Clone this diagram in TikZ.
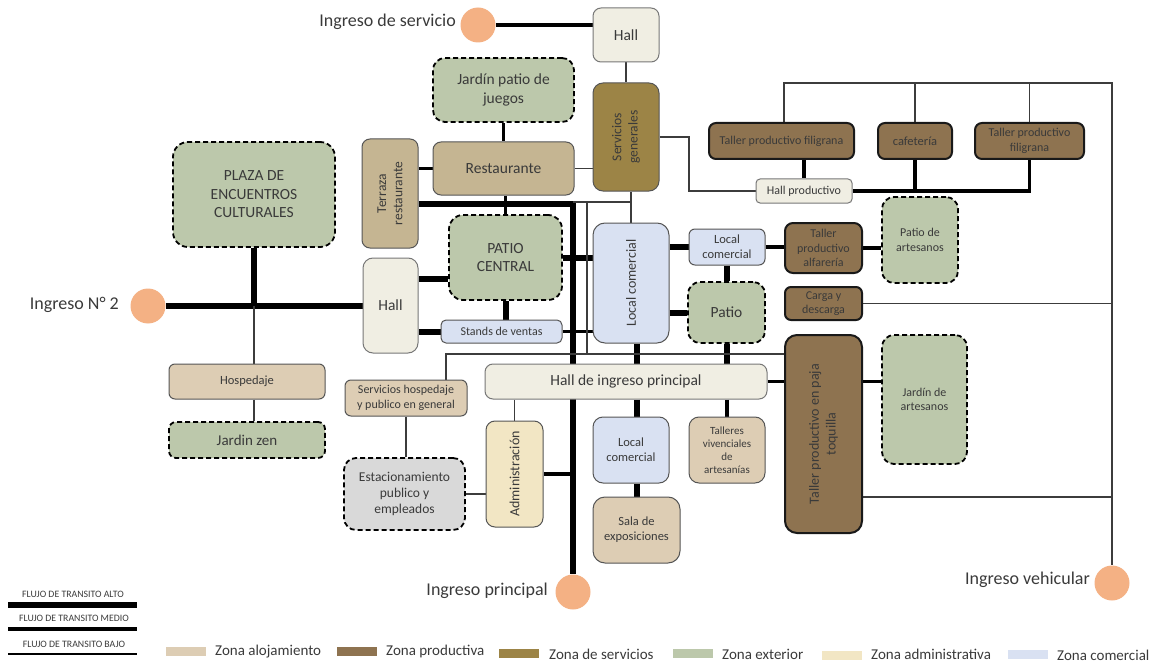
\documentclass[tikz,border=0pt]{standalone}
\usepackage{fontspec}
\setmainfont{Carlito}
\definecolor{cAloj}{HTML}{DDCDB4}
\definecolor{cProd}{HTML}{8E7350}
\definecolor{cServ}{HTML}{9C8446}
\definecolor{cExt}{HTML}{BCC8AB}
\definecolor{cAdm}{HTML}{F2E6C4}
\definecolor{cCom}{HTML}{D9E1F2}
\definecolor{cRest}{HTML}{C5B592}
\definecolor{cHall}{HTML}{F0EEE3}
\definecolor{cGray}{HTML}{D9D9D9}
\definecolor{cPeach}{HTML}{F4B184}
\definecolor{cText}{HTML}{3A3A3A}
\definecolor{cLine}{HTML}{555555}
\definecolor{cThin}{HTML}{3C3C3C}
\pgfdeclarelayer{bg}
\pgfsetlayers{bg,main}
% box from its corners: name, x1, y1, x2, y2, style, text
\newcommand\zbox[7]{%
  \pgfmathsetmacro\zbw{#4-#2}\pgfmathsetmacro\zbh{#5-#3}%
  \node[#6, minimum width=\zbw pt, minimum height=\zbh pt] (#1) at ({(#2+#4)/2},{(#3+#5)/2}) {#7};}
\begin{document}
\begin{tikzpicture}[x=1pt,y=-1pt,
  bx/.style={draw=cLine, line width=1pt, rounded corners=8pt, inner sep=1pt, align=center, text=cText},
  hallbx/.style={bx, draw=cLine!80, fill=cHall},
  prodbx/.style={bx, draw=black!90, line width=2pt, fill=cProd},
  dashbx/.style={bx, draw=black, line width=1.8pt, dash pattern=on 5pt off 3pt, fill=cExt},
  rtext/.style={rotate=90, align=center, text=cText, inner sep=0pt},
  lbl/.style={text=cText, inner sep=0pt},
  entry/.style={circle, fill=cPeach, minimum size=35pt, inner sep=0pt},
  swatch/.style={fill=#1, minimum width=40pt, minimum height=9pt, inner sep=0pt},
  alto/.style={line width=6pt, black},
  medio/.style={line width=3.5pt, black},
  bajo/.style={line width=1.1pt, cThin},
  f18/.style={font=\fontsize{18}{21}\selectfont},
  f155/.style={font=\fontsize{15.5}{18.5}\selectfont},
  f15/.style={font=\fontsize{15}{18}\selectfont},
  f14/.style={font=\fontsize{14}{16.8}\selectfont},
  f135/.style={font=\fontsize{13.5}{16.2}\selectfont},
  f125/.style={font=\fontsize{12.5}{15}\selectfont},
  f12/.style={font=\fontsize{12}{14.3}\selectfont},
  f11/.style={font=\fontsize{11}{13}\selectfont},
  f10/.style={font=\fontsize{9.8}{11}\selectfont}]
\useasboundingbox (0,0) rectangle (1165,666);

% ---- spaces ----
\zbox{hallT}{593}{8}{659}{62}{hallbx, f155}{Hall}
\zbox{jpj}{433}{58}{574}{122}{dashbx, rounded corners=12pt, f155}{Jardín patio de\\juegos}
\zbox{sg}{593}{83}{659}{191}{bx, fill=cServ, rounded corners=10pt}{}
\node[rtext, f135] (sg-t) at (sg) {Servicios\\generales};
\zbox{rest}{433}{142}{574}{195}{bx, fill=cRest, f155}{Restaurante}
\zbox{terr}{362}{139}{418}{248}{bx, fill=cRest}{}
\node[rtext, f135] (terr-t) at (terr) {Terraza\\restaurante};
\zbox{plaza}{173}{142}{335}{247}{dashbx, rounded corners=15pt, f155}{PLAZA DE\\ENCUENTROS\\CULTURALES}
\zbox{pc}{449}{215}{562}{300}{dashbx, rounded corners=14pt, f155}{PATIO\\CENTRAL}
\zbox{hallL}{363}{258}{418}{353}{hallbx, rounded corners=10pt, f155}{Hall}
\zbox{stands}{441}{320}{562}{343}{bx, fill=cCom, rounded corners=5pt, f12}{Stands de ventas}
\zbox{lc1}{593}{223}{669}{343}{bx, fill=cCom, rounded corners=12pt}{}
\node[rtext, f14] (lc1-t) at (lc1) {Local comercial};
\zbox{lc2}{689}{229}{765}{265}{bx, fill=cCom, rounded corners=6pt, f125}{Local\\comercial}
\zbox{patio}{688}{282}{765}{343}{dashbx, rounded corners=12pt, f155}{Patio}
\zbox{hip}{485}{364}{767}{399}{hallbx, f155}{Hall de ingreso principal}
\zbox{lc3}{593}{417}{669}{483}{bx, fill=cCom, rounded corners=10pt, f125}{Local\\comercial}
\zbox{tviv}{689}{417}{765}{483}{bx, fill=cAloj, rounded corners=10pt, f11}{Talleres\\vivenciales\\de\\artesanías}
\zbox{adm}{486}{421}{543}{527}{bx, fill=cAdm, rounded corners=9pt}{}
\node[rtext, f14] (adm-t) at (adm) {Administración};
\zbox{sala}{593}{497}{680}{563}{bx, fill=cAloj, rounded corners=12pt, f125}{Sala de\\exposiciones}
\zbox{shp}{345}{380}{467}{416}{bx, fill=cAloj, rounded corners=6pt, f12}{Servicios hospedaje\\y publico en general}
\zbox{est}{344}{458}{465}{530}{dashbx, fill=cGray, rounded corners=12pt, f135}{Estacionamiento\\publico y\\empleados}
\zbox{hosp}{169}{364}{325}{399}{bx, fill=cAloj, rounded corners=6pt, f125}{Hospedaje}
\zbox{jz}{169}{422}{325}{458}{dashbx, rounded corners=7pt, f15}{Jardin zen}
\zbox{tfl}{709}{123}{854}{159}{prodbx, rounded corners=7pt, f12}{Taller productivo filigrana}
\zbox{caf}{878}{123}{952}{159}{prodbx, rounded corners=7pt, f125}{cafetería}
\zbox{tfr}{975}{123}{1084}{159}{prodbx, rounded corners=7pt, f12}{Taller productivo\\filigrana}
\zbox{hp}{756}{179}{852}{203}{hallbx, rounded corners=4pt, f12}{Hall productivo}
\zbox{talf}{785}{223}{862}{273}{prodbx, rounded corners=8pt, f12}{Taller\\productivo\\alfarería}
\zbox{pda}{882}{197}{958}{283}{dashbx, rounded corners=12pt, f12}{Patio de\\artesanos}
\zbox{cyd}{785}{287}{862}{320}{prodbx, rounded corners=6pt, f12}{Carga y\\descarga}
\zbox{paja}{785}{335}{862}{533}{prodbx, rounded corners=12pt}{}
\node[rtext, f14] (paja-t) at (paja) {Taller productivo en paja\\toquilla};
\zbox{jda}{882}{335}{967}{464}{dashbx, rounded corners=12pt, f12}{Jardín de\\artesanos}

% ---- entrances ----
\node[entry] (cs) at (478,25) {};
\node[entry] (c2) at (148,306) {};
\node[entry] (cp) at (573,592) {};
\node[entry] (cv) at (1112,583) {};
\node[lbl, f18, anchor=east] (cs-l) at (456,22) {Ingreso de servicio};
\node[lbl, f18, anchor=east] (c2-l) at (119,305) {Ingreso N° 2};
\node[lbl, f18, anchor=east] (cp-l) at (548,591) {Ingreso principal};
\node[lbl, f18, anchor=east] (cv-l) at (1090,580) {Ingreso vehicular};

% ---- connectors (behind the boxes) ----
\coordinate (r83) at (0,83);
\coordinate (r202) at (0,202);
\coordinate (r204) at (0,204);
\coordinate (r279) at (0,279);
\coordinate (r354) at (0,354);
\coordinate (r497) at (0,497);
\coordinate (c446) at (446,0);
\coordinate (c587) at (587,0);
\coordinate (c637) at (637,0);
\coordinate (c689) at (689,0);
\begin{pgfonlayer}{bg}
  % high flow
  \draw[alto] (c2.east) -- (hallL.west |- c2.east);
  \draw[alto] (plaza.south) -- (plaza.south |- c2);
  \draw[alto, line join=miter] (terr.east |- r204) -- (cp |- r204) -- (cp.north);
  \draw[alto] (pc.east) -- (pc.east -| lc1.west);
  \draw[alto] (hallL.east |- r279) -- (pc.west |- r279);
  \draw[alto] (stands.west -| hallL.east) -- (stands.west);
  \draw[alto] (pc.south) -- (pc.south |- stands.north);
  \draw[alto] (lc2.west -| lc1.east) -- (lc2.west);
  \draw[alto] (lc2.south) -- (lc2.south |- patio.north);
  \draw[alto] (patio.west -| lc1.east) -- (patio.west);
  \draw[alto] (lc1.south -| c637) -- (hip.north -| c637);
  \draw[alto] (patio.south) -- (patio.south |- hip.north);
  \draw[alto] (hip.south -| c637) -- (lc3.north -| c637);
  \draw[alto] (sala.north |- lc3.south) -- (sala.north);
  % medium flow
  \draw[medio] (cs.east) -- (hallT.west |- cs.east);
  \draw[medio] (jpj.south) -- (jpj.south |- rest.north);
  \draw[medio] (rest.west -| terr.east) -- (rest.west);
  \draw[medio] (pc.north |- rest.south) -- (pc.north);
  \draw[medio] (stands.east) -- (stands.east -| lc1.west);
  \draw[medio] (lc2.east) -- (lc2.east -| talf.west);
  \draw[medio] (talf.east) -- (talf.east -| pda.west);
  \draw[medio] (hip.east) -- (hip.east -| paja.west);
  \draw[medio] (hip.east -| paja.east) -- (hip.east -| jda.west);
  \draw[medio] (tviv.north |- hip.south) -- (tviv.north);
  \draw[medio] (adm.east) -- (adm.east -| cp);
  \draw[medio] (hp.north |- tfl.south) -- (hp.north);
  \draw[medio, line join=miter] (hp.east) -- (hp.east -| tfr.south) -- (tfr.south);
  \draw[medio] (caf.south) -- (caf.south |- hp.east);
  % low flow
  \draw[bajo] (hallT.south) -- (sg.north);
  \draw[bajo] (rest.east) -- (rest.east -| sg.west);
  \draw[bajo] (sg.east) -| (c689 |- hp.west) -- (hp.west);
  \draw[bajo] (lc1.north |- sg.south) -- (lc1.north);
  \draw[bajo] (cp |- r202) -- (lc1.north |- r202);
  \draw[bajo] (c587 |- r202) -- (c587 |- r354);
  \draw[bajo] (shp.north -| c446) -- (c446 |- r354) -- (r354 -| paja.west);
  \draw[bajo] (shp.south) -- (shp.south |- est.north);
  \draw[bajo] (est.east) -- (est.east -| adm.west);
  \draw[bajo] (adm.north |- hip.south) -- (adm.north);
  \draw[bajo] (plaza.south |- c2) -- (plaza.south |- hosp.north);
  \draw[bajo] (plaza.south |- hosp.south) -- (plaza.south |- jz.north);
  \draw[bajo] (talf.west |- tfl.north) -- (talf.west |- r83) -| (cv.north);
  \draw[bajo] (caf.north) -- (caf.north |- r83);
  \draw[bajo] (tfr.north) -- (tfr.north |- r83);
  \draw[bajo] (cyd.east) -- (cyd.east -| cv);
  \draw[bajo] (paja.east |- r497) -- (cv |- r497);
\end{pgfonlayer}

% ---- flow legend ----
\node[lbl, f10] (fa) at (73,594) {FLUJO DE TRANSITO ALTO};
\node[lbl, f10] (fm) at (74,618) {FLUJO DE TRANSITO MEDIO};
\node[lbl, f10] (fb) at (74,644) {FLUJO DE TRANSITO BAJO};
\draw[alto] (8,605) -- (137,605);
\draw[medio] (8,629) -- (137,629);
\draw[line width=1.3pt, black] (8,654) -- (137,654);

% ---- zone legend ----
\node[swatch=cAloj] (s1) at (186,651) {};
\node[lbl, f15, anchor=west] (z1) at (215,652) {Zona alojamiento};
\node[swatch=cProd] (s2) at (357,651) {};
\node[lbl, f15, anchor=west] (z2) at (386,651) {Zona productiva};
\node[swatch=cServ] (s3) at (519,653) {};
\node[lbl, f15, anchor=west] (z3) at (549,654) {Zona de servicios};
\node[swatch=cExt] (s4) at (693,653) {};
\node[lbl, f15, anchor=west] (z4) at (722,654) {Zona exterior};
\node[swatch=cAdm] (s5) at (842,655) {};
\node[lbl, f15, anchor=west] (z5) at (871,654) {Zona administrativa};
\node[swatch=cCom] (s6) at (1028,654) {};
\node[lbl, f15, anchor=west] (z6) at (1057,655) {Zona comercial};
\end{tikzpicture}
\end{document}
